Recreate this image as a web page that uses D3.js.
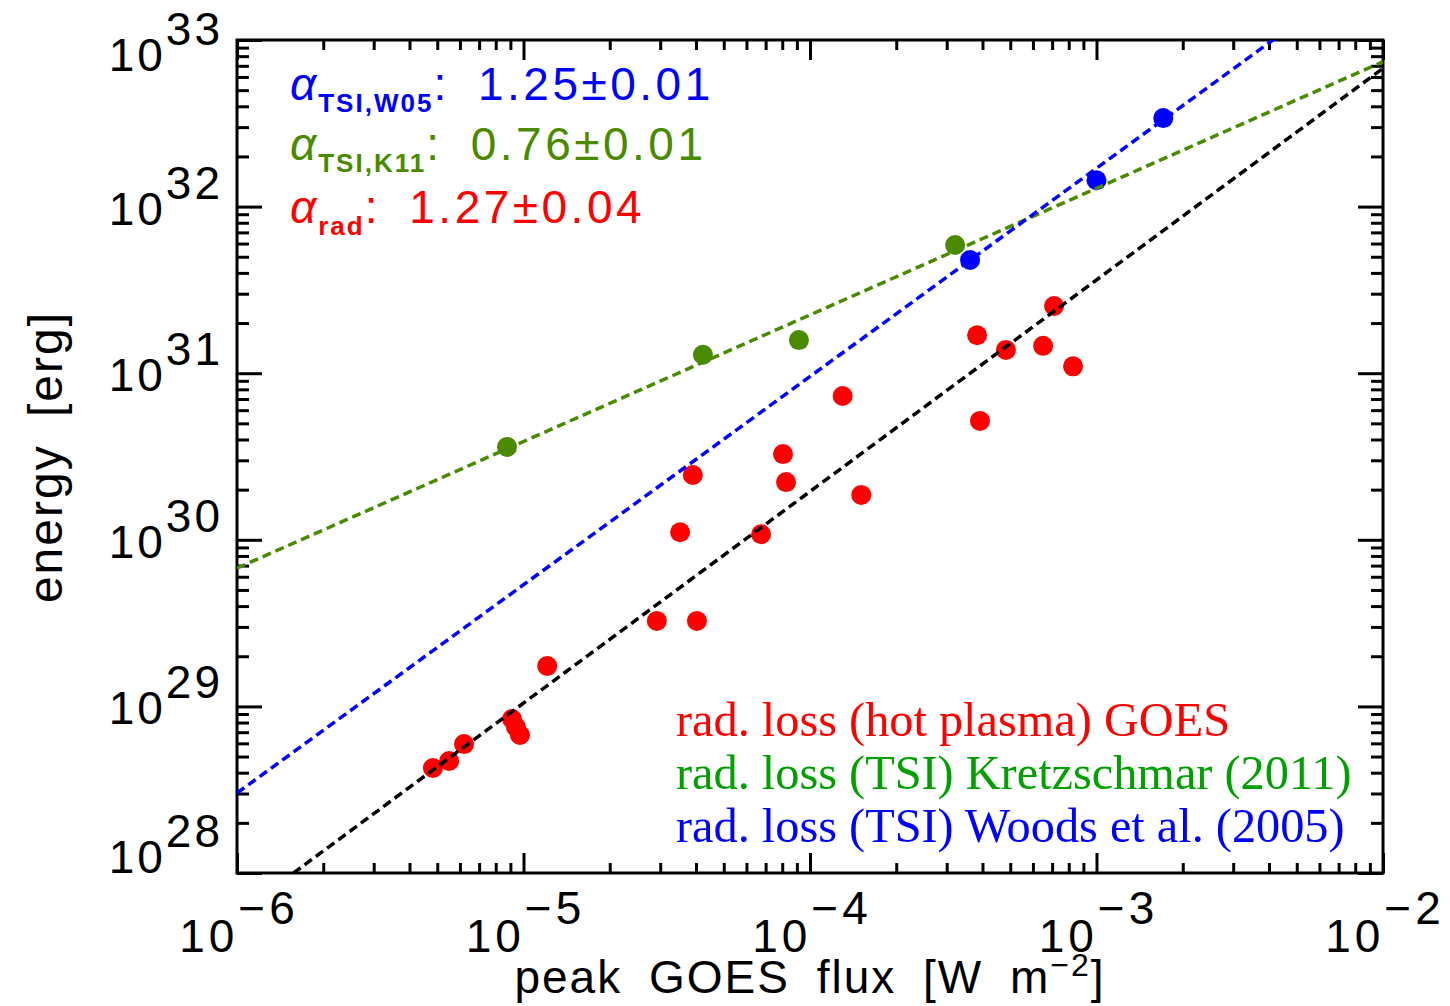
<!DOCTYPE html>
<html>
<head>
<meta charset="utf-8">
<script src="https://cdn.jsdelivr.net/npm/d3@7"></script>
<style>
  body { margin: 0; background: #fff; }
  .axis line { stroke: #000; stroke-width: 3; }
  .sans { font-family: "Liberation Sans", Arial, sans-serif; }
  .serif { font-family: "Liberation Serif", "Times New Roman", serif; }
</style>
</head>
<body>
<svg id="chart" width="1450" height="1006"></svg>
<script>
// hot plasma radiative loss (GOES), red points
var radFlux = [4.83e-6, 5.50e-6, 6.20e-6, 9.12e-6, 9.41e-6, 9.72e-6, 1.21e-5, 2.92e-5, 4.03e-5,
               3.52e-5, 3.90e-5, 6.75e-5, 8.05e-5, 8.25e-5, 1.30e-4, 1.51e-4, 3.83e-4, 3.92e-4,
               4.83e-4, 6.51e-4, 7.11e-4, 8.28e-4];
var radEnergy = [4.27e28, 4.70e28, 5.94e28, 8.40e28, 7.52e28, 6.73e28, 1.75e29, 3.26e29, 3.26e29,
                 1.11e30, 2.45e30, 1.08e30, 3.27e30, 2.22e30, 7.30e30, 1.86e30, 1.69e31, 5.17e30,
                 1.38e31, 1.46e31, 2.53e31, 1.10e31];

// TSI, Kretzschmar (2011), green points
var k11Flux = [8.76e-6, 4.23e-5, 9.15e-5, 3.21e-4];
var k11Energy = [3.61e30, 1.29e31, 1.58e31, 5.88e31];

// TSI, Woods et al. (2005), blue points
var w05Flux = [3.62e-4, 1.00e-3, 1.71e-3];
var w05Energy = [4.78e31, 1.44e32, 3.40e32];

// fitted power laws, energy at both ends of the flux range
var fitFlux = [1e-6, 1e-2];
var radFitEnergy = [5.62e27, 6.76e32];
var k11FitEnergy = [6.76e29, 7.41e32];
var w05FitEnergy = [3.02e28, 3.02e33];

// tick labels
var xExponents = [-6, -5, -4, -3, -2];
var yExponents = [28, 29, 30, 31, 32, 33];

// annotations
var alphaSubs = ["TSI,W05", "TSI,K11", "rad"];
var alphaValues = ["1.25±0.01", "0.76±0.01", "1.27±0.04"];
var legendLabels = ["rad. loss (hot plasma) GOES", "rad. loss (TSI) Kretzschmar (2011)",
                    "rad. loss (TSI) Woods et al. (2005)"];

var red = "#ff0000", olive = "#4a8a00", blue = "#0000ff", green = "#00a000";

var plotLeft = 237, plotRight = 1383, plotTop = 40, plotBottom = 873;

var x = d3.scaleLog().domain([1e-6, 1e-2]).range([plotLeft, plotRight]);
var y = d3.scaleLog().domain([1e28, 1e33]).range([plotBottom, plotTop]);

var svg = d3.select("#chart");

function minorTicks(lo, hi) {
    var out = [];
    for (var k = lo; k < hi; k++) {
        for (var m = 2; m <= 9; m++) out.push(m * Math.pow(10, k));
    }
    return out;
}
var xMajor = xExponents.map(function(e) { return Math.pow(10, e); });
var yMajor = yExponents.map(function(e) { return Math.pow(10, e); });
var xMinor = minorTicks(-6, -2);
var yMinor = minorTicks(28, 33);

// ticks on all four sides, pointing inward
function addAxis(axis, tx, ty) {
    var g = svg.append("g")
        .attr("class", "axis")
        .attr("transform", "translate(" + tx + "," + ty + ")")
        .call(axis);
    g.select(".domain").remove();
    g.selectAll("text").remove();
}
addAxis(d3.axisBottom(x).tickValues(xMajor).tickSize(-20).tickFormat(""), 0, plotBottom);
addAxis(d3.axisBottom(x).tickValues(xMinor).tickSize(-10).tickFormat(""), 0, plotBottom);
addAxis(d3.axisTop(x).tickValues(xMajor).tickSize(-20).tickFormat(""), 0, plotTop);
addAxis(d3.axisTop(x).tickValues(xMinor).tickSize(-10).tickFormat(""), 0, plotTop);
addAxis(d3.axisLeft(y).tickValues(yMajor).tickSize(-25).tickFormat(""), plotLeft, 0);
addAxis(d3.axisLeft(y).tickValues(yMinor).tickSize(-12).tickFormat(""), plotLeft, 0);
addAxis(d3.axisRight(y).tickValues(yMajor).tickSize(-25).tickFormat(""), plotRight, 0);
addAxis(d3.axisRight(y).tickValues(yMinor).tickSize(-12).tickFormat(""), plotRight, 0);

// frame
svg.append("rect")
    .attr("x", plotLeft).attr("y", plotTop)
    .attr("width", plotRight - plotLeft).attr("height", plotBottom - plotTop)
    .attr("fill", "none").attr("stroke", "#000").attr("stroke-width", 3);

// x tick labels
var xl = svg.selectAll(".xlab").data(xExponents).enter()
    .append("text")
    .attr("class", "xlab sans")
    .attr("x", function(d) { return x(Math.pow(10, d)) + 2; })
    .attr("y", 952)
    .attr("text-anchor", "middle")
    .attr("letter-spacing", 4)
    .attr("font-size", 46);
xl.append("tspan").text("10");
xl.append("tspan").attr("dy", -28).text(function(d) { return "\u2212" + Math.abs(d); });

// y tick labels
var yl = svg.selectAll(".ylab").data(yExponents).enter()
    .append("text")
    .attr("class", "ylab sans")
    .attr("x", 223)
    .attr("y", function(d) { return Math.max(71, Math.min(plotBottom, y(Math.pow(10, d)) + 18)); })
    .attr("text-anchor", "end")
    .attr("letter-spacing", 3)
    .attr("font-size", 46);
yl.append("tspan").text("10");
yl.append("tspan").attr("dy", -26).text(function(d) { return d; });

// axis titles
var xt = svg.append("text")
    .attr("class", "sans")
    .attr("x", 810).attr("y", 993)
    .attr("text-anchor", "middle")
    .attr("font-size", 46)
    .attr("letter-spacing", 2)
    .attr("word-spacing", 12);
xt.append("tspan").text("peak GOES flux [W m");
xt.append("tspan").attr("font-size", 32).attr("dy", -17).text("\u22122");
xt.append("tspan").attr("dy", 17).text("]");

svg.append("text")
    .attr("class", "sans")
    .attr("transform", "translate(62,457) rotate(-90)")
    .attr("text-anchor", "middle")
    .attr("font-size", 48)
    .attr("letter-spacing", 2)
    .attr("word-spacing", 12)
    .text("energy [erg]");

// points
var plot = svg.append("g");
function addPoints(xs, ys, color) {
    plot.selectAll(null).data(xs).enter()
        .append("circle")
        .attr("cx", function(d) { return x(d); })
        .attr("cy", function(d, i) { return y(ys[i]); })
        .attr("r", 10)
        .attr("fill", color);
}
addPoints(radFlux, radEnergy, red);
addPoints(k11Flux, k11Energy, olive);
addPoints(w05Flux, w05Energy, blue);

// fit lines, clipped to the plot box
svg.append("clipPath").attr("id", "clip")
    .append("rect")
    .attr("x", plotLeft).attr("y", plotTop)
    .attr("width", plotRight - plotLeft).attr("height", plotBottom - plotTop);

var fitLine = d3.line()
    .x(function(d) { return x(d[0]); })
    .y(function(d) { return y(d[1]); });

var fits = [[k11FitEnergy, olive], [w05FitEnergy, blue], [radFitEnergy, "#000"]];
fits.forEach(function(f) {
    svg.append("path")
        .datum(fitFlux.map(function(v, i) { return [v, f[0][i]]; }))
        .attr("clip-path", "url(#clip)")
        .attr("d", fitLine)
        .attr("fill", "none")
        .attr("stroke", f[1])
        .attr("stroke-width", 3.5)
        .attr("stroke-dasharray", "9,5");
});

// power-law indices
var alphaColors = [blue, olive, red];
var alphaBase = [100, 160, 223];
alphaSubs.forEach(function(s, i) {
    var t = svg.append("text")
        .attr("class", "sans")
        .attr("x", 290).attr("y", alphaBase[i])
        .attr("font-size", 46)
        .attr("fill", alphaColors[i]);
    t.append("tspan").attr("font-style", "italic").text("\u03b1");
    t.append("tspan").attr("font-size", 26).attr("font-weight", "bold")
        .attr("letter-spacing", 2).attr("dx", 2).attr("dy", 12).text(s);
    t.append("tspan").attr("dy", -12).attr("letter-spacing", 3.5)
        .attr("word-spacing", 12).text(": " + alphaValues[i]);
});

// legend
var legendColors = [red, green, blue];
legendLabels.forEach(function(l, i) {
    svg.append("text")
        .attr("class", "serif")
        .attr("x", 676).attr("y", 736 + i * 53)
        .attr("font-size", 48.3)
        .attr("fill", legendColors[i])
        .text(l);
});
</script>
</body>
</html>
